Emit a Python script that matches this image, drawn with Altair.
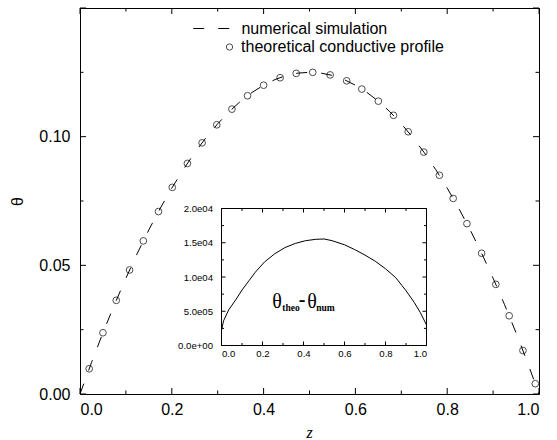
import altair as alt
import pandas as pd

# ---------------- data ----------------
num_label = "numerical simulation"
circ_label = "theoretical conductive profile"

num_z = [0.0, 0.025, 0.05, 0.075, 0.1, 0.125, 0.15, 0.175, 0.2, 0.225, 0.25,
         0.275, 0.3, 0.325, 0.35, 0.375, 0.4, 0.425, 0.45, 0.475, 0.5,
         0.525, 0.55, 0.575, 0.6, 0.625, 0.65, 0.675, 0.7, 0.725, 0.75,
         0.775, 0.8, 0.825, 0.85, 0.875, 0.9, 0.925, 0.95, 0.975, 1.0]
num_theta = [0.0, 0.0122, 0.0238, 0.0347, 0.045, 0.0547, 0.0638, 0.0722, 0.08, 0.0872, 0.0938,
             0.0997, 0.105, 0.1097, 0.1138, 0.1172, 0.12, 0.1222, 0.1238, 0.1247, 0.125,
             0.1247, 0.1238, 0.1222, 0.12, 0.1172, 0.1138, 0.1097, 0.105, 0.0997, 0.0938,
             0.0872, 0.08, 0.0722, 0.0638, 0.0547, 0.045, 0.0347, 0.0238, 0.0122, 0.0]

circ_z = [0.020, 0.050, 0.079, 0.108, 0.138, 0.171, 0.201, 0.234, 0.266, 0.298,
          0.331, 0.365, 0.400, 0.436, 0.471, 0.507, 0.545, 0.581, 0.614, 0.650,
          0.683, 0.715, 0.749, 0.783, 0.813, 0.843, 0.875, 0.906, 0.935, 0.965, 0.992]
circ_theta = [0.0098, 0.0238, 0.0364, 0.0482, 0.0595, 0.0709, 0.0803, 0.0896, 0.0976, 0.1046,
              0.1107, 0.1159, 0.1200, 0.1229, 0.1246, 0.1250, 0.1240, 0.1217, 0.1185, 0.1138,
              0.1083, 0.1019, 0.0940, 0.0850, 0.0760, 0.0662, 0.0547, 0.0426, 0.0304, 0.0169, 0.0040]

inset_z = [0.0, 0.01, 0.035, 0.07, 0.1, 0.135, 0.165, 0.21, 0.26, 0.31, 0.36, 0.41, 0.46,
           0.5, 0.54, 0.6, 0.65, 0.7, 0.75, 0.8, 0.85, 0.9, 0.94, 0.97, 1.0]
inset_diff = [0.22, 0.36, 0.52, 0.67, 0.81, 0.95, 1.07, 1.22, 1.34, 1.43, 1.49, 1.53, 1.55,
              1.555, 1.53, 1.47, 1.40, 1.32, 1.23, 1.12, 0.99, 0.80, 0.63, 0.48, 0.30]

main_x_major = [0.0, 0.2, 0.4, 0.6, 0.8, 1.0]
main_x_minor = [0.1, 0.3, 0.5, 0.7, 0.9]
main_y_labels = [0.0, 0.05, 0.10]
main_y_major = [0.0, 0.05, 0.10, 0.15]
main_y_minor = [0.025, 0.075, 0.125]

inset_x_major = [0.0, 0.2, 0.4, 0.6, 0.8, 1.0]
inset_x_minor = [0.1, 0.3, 0.5, 0.7, 0.9]
inset_y_values = [0.0, 0.5, 1.0, 1.5, 2.0]
inset_y_texts = ["0.0e+00", "5.0e05", "1.0e04", "1.5e04", "2.0e04"]
inset_y_minor = [0.25, 0.75, 1.25, 1.75]

# inset annotation  θ_theo − θ_num
big_text = ["θ", "θ"]
big_z = [0.248, 0.418]
big_v = [0.64, 0.64]
sub_text = ["theo", "num"]
sub_z = [0.2965, 0.462]
sub_v = [0.55, 0.55]
minus_text = ["-"]
minus_z = [0.377]
minus_v = [0.66]

# ---------------- geometry (styling only) ----------------
W, H = 459, 386
IN_X = [141.5, 346.5]
IN_Y = [337.5, 200.5]
MAJ, MIN = 6, 3.5          # main tick lengths
IMAJ, IMIN = 4, 2.5        # inset tick lengths

num_df = pd.DataFrame({"z": num_z, "theta": num_theta, "series": num_label})
circ_df = pd.DataFrame({"z": circ_z, "theta": circ_theta, "series": circ_label})
inset_df = pd.DataFrame({"z": inset_z, "d": inset_diff})
frame_df = pd.DataFrame({"x0": [inset_x_major[0]], "x1": [inset_x_major[-1]],
                         "y0": [inset_y_values[0]], "y1": [inset_y_values[-1]]})
big_df = pd.DataFrame({"z": big_z, "v": big_v, "t": big_text})
sub_df = pd.DataFrame({"z": sub_z, "v": sub_v, "t": sub_text})
minus_df = pd.DataFrame({"z": minus_z, "v": minus_v, "t": minus_text})

SANS = "Liberation Sans"
SERIF = "Liberation Serif"


def mx():
    return alt.Scale(domain=[0, 1], range=[0, W], nice=False, zero=False)


def my():
    return alt.Scale(domain=[0, 0.15], range=[H, 0], nice=False, zero=False)


def ix():
    return alt.Scale(domain=[0, 1], range=IN_X, nice=False, zero=False)


def iy():
    return alt.Scale(domain=[0, 2], range=IN_Y, nice=False, zero=False)


def xticks(values, scale, y_edge, length):
    """inward ticks along a horizontal edge (direction = sign of length)"""
    df = pd.DataFrame({"v": values})
    return alt.Chart(df).mark_rule(color="black", strokeWidth=1).encode(
        x=alt.X("v:Q", scale=scale, axis=None),
        y=alt.value(y_edge), y2=alt.value(y_edge + length),
    )


def yticks(values, scale, x_edge, length):
    df = pd.DataFrame({"v": values})
    return alt.Chart(df).mark_rule(color="black", strokeWidth=1).encode(
        y=alt.Y("v:Q", scale=scale, axis=None),
        x=alt.value(x_edge), x2=alt.value(x_edge + length),
    )


# ---------------- main plot ----------------
main_line = alt.Chart(num_df).mark_line(color="black", strokeWidth=1).encode(
    x=alt.X("z:Q", scale=mx(), axis=alt.Axis(
        orient="bottom", values=main_x_major, format=".1f", ticks=False, tickSize=0,
        domain=False, grid=False, labelFont=SANS, labelFontSize=16, labelColor="black",
        labelPadding=7, title="z", titleFont=SERIF, titleFontStyle="italic",
        titleFontSize=16, titleFontWeight="normal", titleColor="black",
        titleX=229, titleY=38, titleBaseline="middle", titleAlign="center")),
    y=alt.Y("theta:Q", scale=my(), axis=alt.Axis(
        orient="left", values=main_y_labels, format=".2f", ticks=False, tickSize=0,
        domain=False, grid=False, labelFont=SANS, labelFontSize=16, labelColor="black",
        labelPadding=10, title="θ", titleFont=SANS, titleFontSize=16,
        titleFontWeight="normal", titleColor="black", titleX=-63, titleY=193,
        titleBaseline="middle", titleAlign="center", titleAngle=270)),
    strokeDash=alt.StrokeDash("series:N", scale=alt.Scale(domain=[num_label], range=[[11, 14]]),
                              legend=alt.Legend(title=None, orient="none", legendX=112.7, legendY=2,
                                                symbolType="stroke", symbolSize=1296,
                                                symbolStrokeWidth=1, symbolStrokeColor="black",
                                                labelFont=SANS, labelFontSize=16, labelColor="black",
                                                labelOffset=11.7, labelLimit=0, padding=0)),
)

main_circ = alt.Chart(circ_df).mark_point(shape="circle", filled=False, color="black",
                                           size=45, strokeWidth=1).encode(
    x=alt.X("z:Q", scale=mx(), axis=None),
    y=alt.Y("theta:Q", scale=my(), axis=None),
    shape=alt.Shape("series:N", scale=alt.Scale(domain=[circ_label], range=["circle"]),
                    legend=alt.Legend(title=None, orient="none", legendX=141.5, legendY=31,
                                      symbolSize=40, symbolStrokeWidth=1,
                                      symbolStrokeColor="black", symbolFillColor="transparent",
                                      labelFont=SANS, labelFontSize=16, labelColor="black",
                                      labelOffset=3.6, labelLimit=0, padding=0)),
)

main_ticks = [
    xticks(main_x_major, mx(), H, -MAJ), xticks(main_x_minor, mx(), H, -MIN),
    xticks(main_x_major, mx(), 0, MAJ), xticks(main_x_minor, mx(), 0, MIN),
    yticks(main_y_major, my(), 0, MAJ), yticks(main_y_minor, my(), 0, MIN),
    yticks(main_y_major, my(), W, -MAJ), yticks(main_y_minor, my(), W, -MIN),
]

# ---------------- inset ----------------
label_expr = " : ".join(
    f"datum.value == {v} ? '{t}'" for v, t in zip(inset_y_values, inset_y_texts)) + " : ''"

inset_frame = alt.Chart(frame_df).mark_rect(fill="white", stroke="black", strokeWidth=1).encode(
    x=alt.X("x0:Q", scale=ix(), axis=None), x2="x1:Q",
    y=alt.Y("y0:Q", scale=iy(), axis=None), y2="y1:Q",
)

inset_line = alt.Chart(inset_df).mark_line(color="black", strokeWidth=1).encode(
    x=alt.X("z:Q", scale=ix(), axis=alt.Axis(
        orient="bottom", offset=-(H - IN_Y[0]), values=inset_x_major, format=".1f",
        ticks=False, tickSize=0, domain=False, grid=False, labelFont=SANS,
        labelFontSize=9.6, labelColor="black", labelPadding=3, title=None)),
    y=alt.Y("d:Q", scale=iy(), axis=alt.Axis(
        orient="left", offset=-IN_X[0], values=inset_y_values, labelExpr=label_expr,
        ticks=False, tickSize=0, domain=False, grid=False, labelFont=SANS,
        labelFontSize=9.6, labelColor="black", labelPadding=9, title=None)),
)

inset_ticks = [
    xticks(inset_x_major, ix(), IN_Y[0], -IMAJ), xticks(inset_x_minor, ix(), IN_Y[0], -IMIN),
    xticks(inset_x_major, ix(), IN_Y[1], IMAJ), xticks(inset_x_minor, ix(), IN_Y[1], IMIN),
    yticks(inset_y_values, iy(), IN_X[0], IMAJ), yticks(inset_y_minor, iy(), IN_X[0], IMIN),
    yticks(inset_y_values, iy(), IN_X[1], -IMAJ), yticks(inset_y_minor, iy(), IN_X[1], -IMIN),
]


def text_layer(df, size, weight):
    return alt.Chart(df).mark_text(font=SERIF, fontSize=size, fontWeight=weight,
                                   align="left", baseline="middle", color="black").encode(
        x=alt.X("z:Q", scale=ix(), axis=None),
        y=alt.Y("v:Q", scale=iy(), axis=None),
        text="t:N",
    )


t_big = text_layer(big_df, 20, "normal")
t_sub = text_layer(sub_df, 9.5, "bold")
t_minus = text_layer(minus_df, 20, "bold")

chart = alt.layer(
    main_line, main_circ, *main_ticks,
    inset_frame, inset_line, *inset_ticks,
    t_big, t_sub, t_minus,
).resolve_scale(
    x="independent", y="independent"
).resolve_axis(
    x="independent", y="independent"
).properties(
    width=W, height=H,
    autosize=alt.AutoSizeParams(type="none"),
    padding={"left": 80, "top": 8, "right": 18, "bottom": 46},
    background="white",
).configure_view(
    stroke="black", strokeWidth=1
)

chart.save("out.html", embed_options={"renderer": "svg", "actions": False})
